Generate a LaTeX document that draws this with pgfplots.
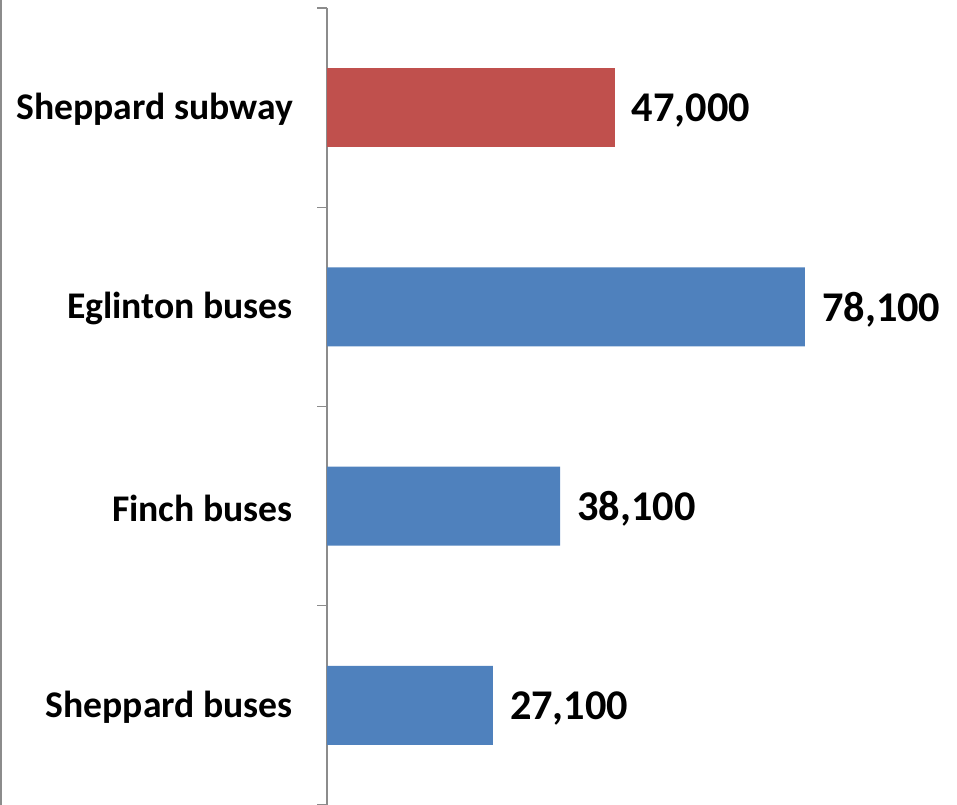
\documentclass[border=0pt]{standalone}
\usepackage{pgfplots}
\pgfplotsset{compat=1.18}
\usepackage{fontspec}
\setmainfont{Carlito}
\definecolor{barred}{HTML}{C0504D}
\definecolor{barblue}{HTML}{4F81BD}
\definecolor{axisgray}{HTML}{8C8C8C}
\begin{document}
\begin{tikzpicture}
\useasboundingbox (0,0) rectangle (957bp,805bp);
\draw[axisgray, line width=1.5bp] (0.75bp,0) -- (0.75bp,805bp);
\begin{axis}[
  at={(327bp,0bp)}, anchor=south west,
  scale only axis, width=612bp, height=797bp,
  xmin=0, xmax=100000, ymin=-0.5, ymax=3.5,
  axis x line=none, axis y line=left,
  axis line style={-, axisgray, line width=1.2bp},
  ytick={0,1,2,3},
  yticklabels={Sheppard buses, Finch buses, Eglinton buses, Sheppard subway},
  major tick length=0pt,
  minor ytick={-0.5,0.5,1.5,2.5,3.5},
  minor tick length=10bp, tick align=outside,
  tick style={axisgray, line width=1.2bp},
  yticklabel style={font=\bfseries\fontsize{37.8}{38}\selectfont, inner sep=0pt, xshift=-34bp, yshift=-2bp},
  xbar, bar width=79bp, bar shift=0pt,
  nodes near coords, point meta=x,
  /pgf/number format/.cd, fixed, 1000 sep={,}, assume math mode=true,
  /pgfplots/.cd,
  every node near coord/.append style={font=\bfseries\fontsize{42.5}{43}\selectfont, inner sep=0pt, xshift=17bp, yshift=-3bp, text=black},
  clip=false,
]
\addplot[fill=barblue, draw=none] coordinates {(27100,0) (38100,1) (78100,2)};
\addplot[fill=barred, draw=none] coordinates {(47000,3)};
\end{axis}
\end{tikzpicture}
\end{document}
